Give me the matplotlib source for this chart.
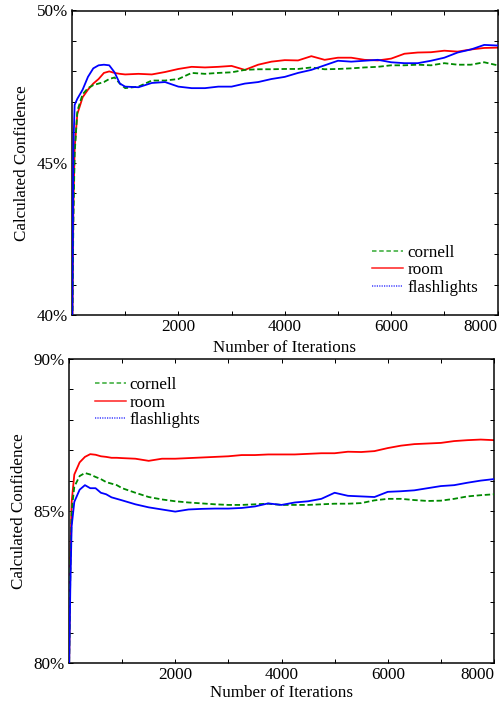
import matplotlib
matplotlib.use("Agg")
import matplotlib.pyplot as plt
from matplotlib.lines import Line2D
from matplotlib.ticker import MultipleLocator, FixedLocator, FuncFormatter

plt.rcParams['font.family'] = ['Liberation Serif', 'DejaVu Serif']

iterations = [0, 25, 50, 100, 200, 300, 400, 500, 600, 700, 800, 900, 1000,
              1250, 1500, 1750, 2000, 2250, 2500, 2750, 3000, 3250, 3500, 3750,
              4000, 4250, 4500, 4750, 5000, 5250, 5500, 5750, 6000, 6250, 6500,
              6750, 7000, 7250, 7500, 7750, 8000]

series_names = ["cornell", "room", "flashlights"]

# Top panel (%)
top_cornell = [38.0, 43.0, 45.3, 46.7, 47.25, 47.45, 47.55, 47.6, 47.65, 47.75, 47.8, 47.6, 47.45,
               47.5, 47.7, 47.7, 47.75, 47.95, 47.92, 47.95, 47.97, 48.05, 48.07, 48.07,
               48.08, 48.08, 48.13, 48.07, 48.08, 48.1, 48.13, 48.15, 48.2, 48.2, 48.22,
               48.2, 48.27, 48.22, 48.22, 48.3, 48.2]
top_room = [38.0, 43.5, 45.5, 46.6, 47.15, 47.4, 47.6, 47.75, 47.95, 48.0, 47.95, 47.92, 47.9,
            47.92, 47.9, 47.98, 48.08, 48.15, 48.13, 48.15, 48.18, 48.05, 48.22, 48.32,
            48.37, 48.36, 48.5, 48.38, 48.45, 48.45, 48.38, 48.36, 48.42, 48.58, 48.62,
            48.63, 48.68, 48.65, 48.72, 48.77, 48.78]
top_flashlights = [38.0, 45.5, 46.9, 47.1, 47.4, 47.82, 48.1, 48.2, 48.22, 48.2, 47.97, 47.6, 47.5,
                   47.48, 47.62, 47.65, 47.5, 47.45, 47.45, 47.5, 47.5, 47.6, 47.65, 47.75,
                   47.82, 47.95, 48.05, 48.2, 48.35, 48.32, 48.35, 48.38, 48.3, 48.27, 48.27,
                   48.35, 48.45, 48.62, 48.72, 48.87, 48.85]

# Bottom panel (%)
bot_cornell = [79.5, 83.0, 85.0, 85.8, 86.15, 86.25, 86.2, 86.12, 86.05, 85.95, 85.9, 85.85, 85.75,
               85.6, 85.46, 85.38, 85.32, 85.28, 85.25, 85.22, 85.2, 85.2, 85.22, 85.24,
               85.2, 85.2, 85.2, 85.22, 85.24, 85.24, 85.26, 85.35, 85.4, 85.4, 85.36,
               85.33, 85.34, 85.4, 85.48, 85.52, 85.55]
bot_room = [79.5, 83.5, 85.3, 86.2, 86.6, 86.78, 86.87, 86.85, 86.8, 86.78, 86.75, 86.75, 86.74,
            86.72, 86.65, 86.72, 86.72, 86.74, 86.76, 86.78, 86.8, 86.84, 86.84, 86.86,
            86.86, 86.86, 86.88, 86.9, 86.9, 86.95, 86.94, 86.97, 87.07, 87.15, 87.2,
            87.22, 87.24, 87.3, 87.33, 87.35, 87.33]
bot_flashlights = [79.5, 82.5, 84.5, 85.3, 85.7, 85.85, 85.75, 85.75, 85.6, 85.55, 85.45, 85.4, 85.35,
                   85.22, 85.12, 85.05, 84.98, 85.05, 85.07, 85.08, 85.08, 85.1, 85.15, 85.25,
                   85.2, 85.28, 85.32, 85.4, 85.6, 85.5, 85.48, 85.46, 85.63, 85.65, 85.68,
                   85.75, 85.82, 85.85, 85.93, 86.0, 86.05]

x_tick_labels = [2000, 4000, 6000, 8000]
top_ylim = (40, 50)
bot_ylim = (80, 90)

colors = {"cornell": "#008a00", "room": "#ff0000", "flashlights": "#0000ff"}
legend_colors = {"cornell": "#2ea82e", "room": "#ff1a1a", "flashlights": "#3a3aff"}
styles = {"cornell": (0, (3, 1.5)), "room": "-", "flashlights": "-"}
legend_styles = {"cornell": (0, (3.0, 1.8)), "room": "-", "flashlights": (0, (0.8, 0.8))}

FS = 17
W, H = 504, 702
fig = plt.figure(figsize=(W / 72, H / 72), dpi=72)

def make_axes(rect, ylim, data, legend_kw, xlabelpad):
    ax = fig.add_axes(rect)
    for name, vals in zip(series_names, data):
        ax.plot(iterations, vals, color=colors[name], linestyle=styles[name],
                lw=1.8, zorder={"cornell": 3, "room": 2, "flashlights": 4}[name],
                clip_on=True)
    ax.set_xlim(0, 8000)
    ax.set_ylim(*ylim)
    ax.xaxis.set_major_locator(FixedLocator(x_tick_labels))
    ax.xaxis.set_minor_locator(MultipleLocator(1000))
    ax.yaxis.set_major_locator(MultipleLocator(5))
    ax.yaxis.set_minor_locator(MultipleLocator(1))
    ax.yaxis.set_major_formatter(FuncFormatter(lambda v, p: f"{v:.0f}%"))
    ax.tick_params(which='both', direction='in', top=True, right=True,
                   length=4, width=1, labelsize=FS, pad=4)
    for s in ax.spines.values():
        s.set_linewidth(1.5)
    ax.set_xlabel("Number of Iterations", fontsize=FS, labelpad=xlabelpad)
    ax.set_ylabel("Calculated Confidence", fontsize=FS, labelpad=7)
    fig.canvas.draw()
    xl = ax.get_xticklabels()
    xl[-1].set_horizontalalignment('right')
    handles = [Line2D([], [], color=legend_colors[n], linestyle=legend_styles[n], lw=1.5)
               for n in series_names]
    ax.legend(handles, series_names, frameon=False, fontsize=FS, borderpad=0,
              handlelength=1.8, handletextpad=0.25, labelspacing=0.08, **legend_kw)
    return ax

ax1 = make_axes([72 / W, 1 - 315 / H, 425.5 / W, (315 - 10.5) / H], top_ylim,
                [top_cornell, top_room, top_flashlights],
                dict(loc='lower right', bbox_to_anchor=(0.974, 0.036)), 5)
ax2 = make_axes([69 / W, 1 - 663 / H, 425 / W, (663 - 359) / H], bot_ylim,
                [bot_cornell, bot_room, bot_flashlights],
                dict(loc='upper left', bbox_to_anchor=(0.041, 0.968)), 2)

fig.savefig("out.png", dpi=72)
